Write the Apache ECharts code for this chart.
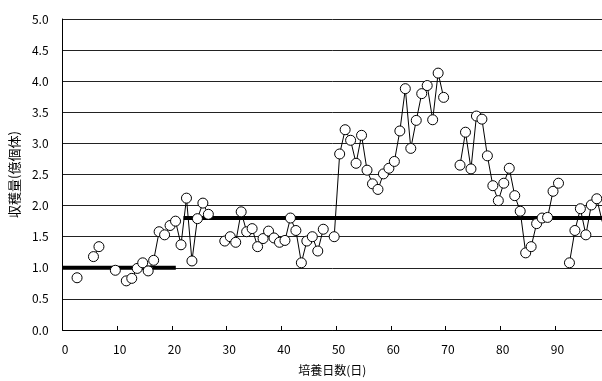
<!DOCTYPE html>
<html>
<head>
<meta charset="utf-8">
<script src="https://cdn.jsdelivr.net/npm/echarts@6/dist/echarts.min.js"></script>
<style>
  html, body { margin: 0; padding: 0; background: #fff; }
  #main-chart-1 { width: 602px; height: 381px; }
</style>
</head>
<body>
<div id="main-chart-1"></div>
<script>
// Data
// days 1..99, null = no measurement that day
const days = [];
for (let d = 1; d <= 99; d++) days.push(d);

const harvest = [
  null, null, 0.84, null, null, 1.18, 1.34, null, null, 0.96,   // 1-10
  null, 0.79, 0.83, 0.99, 1.08, 0.95, 1.12, 1.58, 1.53, 1.68,   // 11-20
  1.75, 1.37, 2.12, 1.11, 1.79, 2.04, 1.86, null, null, 1.43,   // 21-30
  1.50, 1.41, 1.90, 1.58, 1.63, 1.34, 1.47, 1.59, 1.48, 1.41,   // 31-40
  1.44, 1.80, 1.60, 1.08, 1.43, 1.50, 1.27, 1.62, null, 1.50,   // 41-50
  2.83, 3.22, 3.05, 2.68, 3.13, 2.57, 2.35, 2.26, 2.51, 2.60,   // 51-60
  2.71, 3.20, 3.88, 2.92, 3.37, 3.80, 3.93, 3.38, 4.13, 3.74,   // 61-70
  null, null, 2.65, 3.18, 2.59, 3.44, 3.39, 2.80, 2.32, 2.08,   // 71-80
  2.36, 2.60, 2.16, 1.91, 1.24, 1.34, 1.71, 1.80, 1.81, 2.23,   // 81-90
  2.36, null, 1.08, 1.60, 1.95, 1.53, 2.01, 2.11, 1.74          // 91-99
];

// thick average lines: [start day, end day, level]
const avgEarly = [0, 20.7, 1.0];
const avgLate = [22.1, 98.6, 1.8];

const xTicks = [0, 10, 20, 30, 40, 50, 60, 70, 80, 90];
const yTicks = [0, 0.5, 1, 1.5, 2, 2.5, 3, 3.5, 4, 4.5, 5];

const FONT = '"Noto Sans CJK JP", "Liberation Sans", sans-serif';

const chart = echarts.init(document.getElementById('main-chart-1'));

const option = {
  animation: false,
  backgroundColor: '#fff',
  grid: { left: 60, right: 0, top: 19, bottom: 49 },
  xAxis: [
    {
      type: 'value',
      min: xTicks[0],
      max: 98.6,
      interval: 10,
      name: '培養日数(日)',
      nameLocation: 'middle',
      nameGap: 34,
      nameTextStyle: { fontFamily: FONT, fontSize: 12, color: '#000' },
      axisLine: { lineStyle: { color: '#000', width: 1 } },
      axisTick: { inside: true, length: 4, lineStyle: { color: '#000' } },
      axisLabel: {
        fontFamily: FONT, fontSize: 12, color: '#000', margin: 13,
        showMaxLabel: false,
        padding: [0, 0, 0, 5],
        formatter: v => (xTicks.indexOf(v) >= 0 ? String(v) : '')
      },
      splitLine: { show: false }
    },
    {
      // data axis, slightly shifted so points sit where the picture has them
      type: 'value',
      min: 0.35,
      max: 98.95,
      show: false
    }
  ],
  yAxis: {
    type: 'value',
    min: yTicks[0],
    max: yTicks[yTicks.length - 1],
    interval: 0.5,
    name: '収穫量(億個体)',
    nameLocation: 'middle',
    nameGap: 36,
    nameTextStyle: { fontFamily: FONT, fontSize: 13, color: '#000' },
    axisLine: { show: true, lineStyle: { color: '#000', width: 1 } },
    axisTick: { show: false },
    axisLabel: {
      fontFamily: FONT, fontSize: 12, color: '#000', margin: 14,
      formatter: v => v.toFixed(1)
    },
    splitLine: { show: true, lineStyle: { color: '#222', width: 1 } }
  },
  series: [
    {
      type: 'line',
      xAxisIndex: 0,
      data: [[avgEarly[0], avgEarly[2]], [avgEarly[1], avgEarly[2]]],
      symbol: 'none',
      lineStyle: { color: '#000', width: 4 },
      z: 2
    },
    {
      type: 'line',
      xAxisIndex: 0,
      data: [[avgLate[0], avgLate[2]], [avgLate[1], avgLate[2]]],
      symbol: 'none',
      lineStyle: { color: '#000', width: 4 },
      z: 2
    },
    {
      type: 'line',
      xAxisIndex: 1,
      data: days.map((d, i) => [d, harvest[i]]),
      connectNulls: false,
      symbol: 'circle',
      symbolSize: 10,
      showAllSymbol: true,
      itemStyle: { color: '#fff', borderColor: '#000', borderWidth: 1 },
      lineStyle: { color: '#000', width: 1 },
      z: 5
    }
  ]
};

chart.setOption(option);
console.log('[chart] drawn, points:', harvest.filter(v => v !== null).length);
</script>
</body>
</html>
